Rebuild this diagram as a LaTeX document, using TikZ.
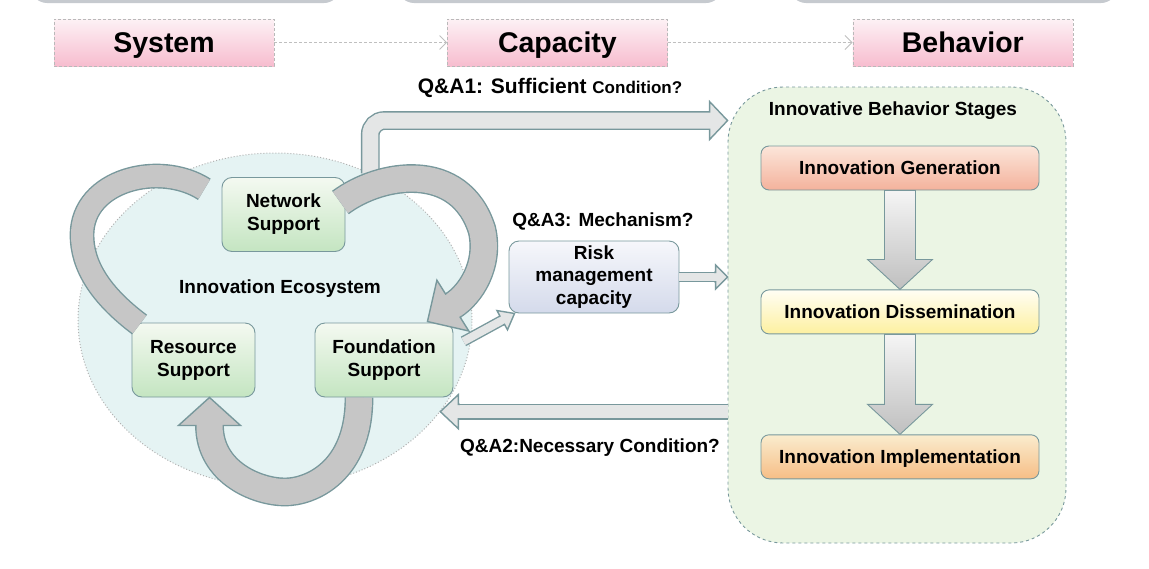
\documentclass[tikz,border=0pt]{standalone}
\usepackage{fontspec}
\setmainfont{Liberation Sans}
\usetikzlibrary{arrows.meta,positioning,calc,shapes.geometric,decorations.markings}
\definecolor{edgegray}{RGB}{120,152,156}
\definecolor{bandgray}{RGB}{198,198,198}
\definecolor{lightband}{RGB}{228,230,230}
\definecolor{topgray}{RGB}{198,202,207}
\definecolor{pinktop}{RGB}{253,241,245}
\definecolor{pinkbot}{RGB}{247,189,207}
\definecolor{ecofill}{RGB}{229,243,243}
\definecolor{greentop}{RGB}{244,249,241}
\definecolor{greenbot}{RGB}{196,229,193}
\definecolor{bluetop}{RGB}{246,247,251}
\definecolor{bluebot}{RGB}{212,218,235}
\definecolor{stagefill}{RGB}{235,245,228}
\definecolor{gentop}{RGB}{252,230,218}
\definecolor{genbot}{RGB}{244,178,156}
\definecolor{distop}{RGB}{255,254,244}
\definecolor{disbot}{RGB}{253,240,160}
\definecolor{imptop}{RGB}{250,236,206}
\definecolor{impbot}{RGB}{246,190,134}

% block arrow: fill, shaft width, head half width, head length, path
\newcommand{\fatarrow}[5]{%
  \draw[line width=1.4pt, draw=edgegray, double=#1, double distance=#2pt, shorten >=#4pt] #5;
  \path[decorate, decoration={markings, mark=at position 1 with {%
    \fill[#1] (-#4-1.5,#2/2+0.7) -- (-#4,#2/2+0.7) -- (-#4,#3) -- (0,0) -- (-#4,-#3) -- (-#4,-#2/2-0.7) -- (-#4-1.5,-#2/2-0.7) -- cycle;
    \draw[edgegray, line width=1.4pt, line join=miter] (-#4-1.5,#2/2+0.7) -- (-#4,#2/2+0.7) -- (-#4,#3) -- (0,0) -- (-#4,-#3) -- (-#4,-#2/2-0.7) -- (-#4-1.5,-#2/2-0.7);
  }}] #5;}

% wide shaded arrow between two stages
\newcommand{\stagearrow}[2]{%
  \shade[top color=gray!8, bottom color=gray!50, draw=edgegray, line width=0.9pt]
    ($(#1.south)+(-15.5,0)$) -- ($(#1.south)+(15.5,0)$) -- ($(#2.north)+(15.5,-30)$)
    -- ($(#2.north)+(32.5,-30)$) -- (#2.north) -- ($(#2.north)+(-32.5,-30)$)
    -- ($(#2.north)+(-15.5,-30)$) -- cycle;}

\tikzset{
  header/.style={draw=gray!55, densely dashed, top color=pinktop, bottom color=pinkbot,
    minimum width=220pt, minimum height=47pt, text height=20.5pt, text depth=0pt,
    font=\fontsize{28.5}{32}\selectfont\bfseries},
  hdrarrow/.style={draw=gray!50, dash pattern=on 3pt off 2pt, line width=0.9pt,
    -{Straight Barb[length=7pt,width=14pt]}},
  support/.style={draw=edgegray, rounded corners=10pt, top color=greentop, bottom color=greenbot,
    line width=0.9pt, minimum height=74pt, align=center, font=\fontsize{19}{23}\selectfont\bfseries},
  stagebox/.style={draw=edgegray, rounded corners=8pt, line width=0.9pt, minimum width=278pt,
    minimum height=44pt, text height=13.6pt, text depth=0pt, font=\fontsize{19}{23}\selectfont\bfseries},
  qlabel/.style={font=\fontsize{19}{23}\selectfont\bfseries}
}

\begin{document}
\begin{tikzpicture}[x=1pt,y=-1pt]
\useasboundingbox (0,0) rectangle (1149,568);

% boxes cut off at the top edge
\fill[topgray, rounded corners=16pt] (31,-40) rectangle (340,3);
\fill[topgray, rounded corners=16pt] (398,-40) rectangle (722,3);
\fill[topgray, rounded corners=16pt] (790,-40) rectangle (1117,3);

% headers
\node[header] (sys) at (164,42.5) {System};
\node[header, right=173pt of sys] (cap) {Capacity};
\node[header, right=185pt of cap] (beh) {Behavior};
\draw[hdrarrow] (sys) -- (cap);
\draw[hdrarrow] (cap) -- (beh);

% ecosystem
\node[ellipse, draw=gray!60, dotted, line width=1pt, fill=ecofill,
  minimum width=394pt, minimum height=334pt] (eco) at (275,320) {};
\node[qlabel, anchor=base] (ecolabel) at (280,293) {Innovation Ecosystem};
\node[support, minimum width=123pt] (network) at (283.5,214.5) {Network\\Support};
\node[support, minimum width=123pt] (resource) at (193.5,360) {Resource\\Support};
\node[support, minimum width=138pt] (foundation) at (384,360) {Foundation\\Support};

\node[draw=edgegray, rounded corners=10pt, line width=0.9pt, top color=bluetop, bottom color=bluebot,
  minimum width=170pt, minimum height=72pt, align=center,
  font=\fontsize{19}{22.5}\selectfont\bfseries] (risk) at (594,277) {Risk\\management\\capacity};

% behavior stages
\node[draw=edgegray, dashed, line width=0.9pt, fill=stagefill, rounded corners=55pt,
  minimum width=338pt, minimum height=456pt] (stages) at (897,315) {};
\node[qlabel, anchor=base] (stagetitle) at (893,115) {Innovative Behavior Stages};
\node[stagebox, top color=gentop, bottom color=genbot] (gen) at (900,168) {Innovation Generation};
\node[stagebox, top color=distop, bottom color=disbot, below=99pt of gen] (dis) {Innovation Dissemination};
\node[stagebox, top color=imptop, bottom color=impbot, below=100pt of dis] (impl) {Innovation Implementation};
\stagearrow{gen}{dis}
\stagearrow{dis}{impl}

% Q&A1
\coordinate (q1start) at (eco.57);
\coordinate (q1end) at ([yshift=-34pt]stages.north west);
\fatarrow{lightband}{16}{19}{18}{(q1start) [rounded corners=14pt] |- ($(q1end)+(-40,0)$) [sharp corners] -- (q1end)}

% cycle inside the ecosystem
\fatarrow{bandgray}{22}{30}{30}{($(resource.north west)+(8,2)$) .. controls +(-40,-30) and +(0,30) .. (82,235) .. controls +(0,-55) and +(-70,-45) .. ($(network.west)+(8,-9)$)}
\fatarrow{bandgray}{26}{30}{30}{($(network.east)+(-5,-12)$) .. controls +(40,-30) and +(-22,-70) .. (482,230) .. controls +(8,35) and +(43,-27) .. ($(foundation.north east)+(-26,-1)$)}
\fatarrow{bandgray}{26}{31}{28}{($(foundation.south)+(-25,0)$) .. controls +(0,75) and +(25,0) .. (285,492) .. controls +(-28,0) and +(0,75) .. ($(resource.south)+(16,0)$)}

% Q&A3 and Q&A2
\fatarrow{lightband}{8}{11}{14}{([xshift=10pt]foundation.15) -- ([xshift=6pt]risk.south west)}
\fatarrow{lightband}{8}{12}{12}{(risk.east) -- (risk.east -| stages.west)}
\fatarrow{lightband}{13}{17}{18}{(stages.west |- eco.331) -- (eco.331)}

\node[anchor=base, font=\bfseries] (q1label) at (550,93)
  {{\fontsize{21}{24}\selectfont Q\&A1: Sufficient }{\fontsize{17}{20}\selectfont Condition?}};
\node[qlabel, anchor=base] (q3label) at (603,226) {Q\&A3: Mechanism?};
\node[qlabel, anchor=base] (q2label) at (590,452) {Q\&A2:Necessary Condition?};
\end{tikzpicture}
\end{document}
